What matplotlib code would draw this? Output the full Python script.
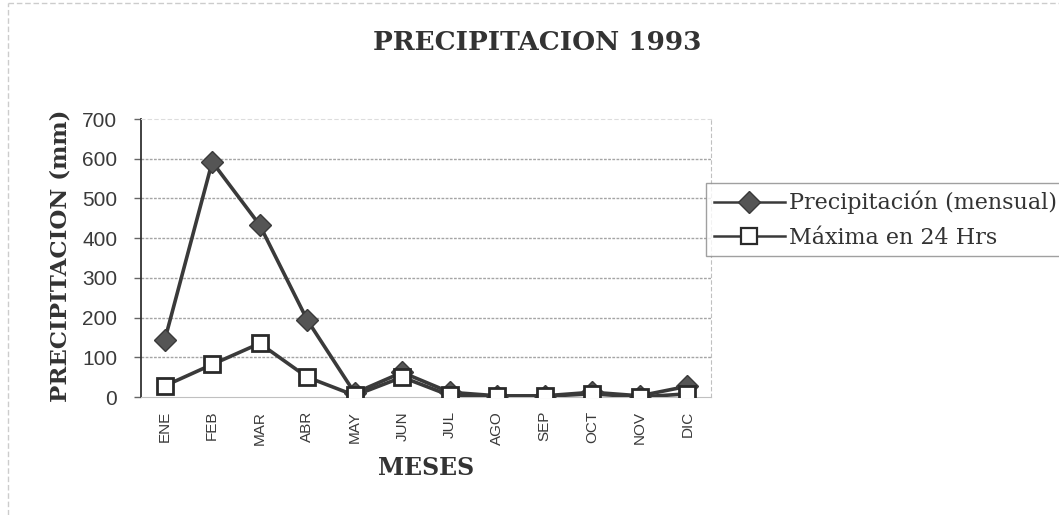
import numpy as np
import matplotlib.pyplot as plt
from matplotlib.lines import Line2D

meses = ["ENE", "FEB", "MAR", "ABR", "MAY", "JUN", "JUL", "AGO", "SEP", "OCT", "NOV", "DIC"]
precip_mensual = [143, 592, 433, 194, 10, 62, 12, 3, 3, 12, 3, 27]
maxima_24h = [28, 82, 135, 50, 4, 50, 4, 2, 2, 8, 0, 8]
y_ticks = [0, 100, 200, 300, 400, 500, 600, 700]

def main():
    fig = plt.figure(figsize=(10.59, 5.15), dpi=100)
    ax = fig.add_axes([0.1331, 0.2291, 0.5383, 0.5398])
    x = np.arange(len(meses))

    linea = '#3a3a3a'
    ax.plot(x, precip_mensual, color=linea, lw=2.6, marker='D', ms=11,
            mfc='#555555', mec='#3a3a3a', zorder=3)
    ax.plot(x, maxima_24h, color=linea, lw=2.6, marker='s', ms=12,
            mfc='white', mec='#2a2a2a', mew=2, zorder=4)

    ax.set_xlim(-0.5, len(meses) - 0.5)
    ax.set_ylim(0, 700)
    ax.set_yticks(y_ticks)
    ax.set_yticklabels([str(v) for v in y_ticks], fontsize=15,
                       family='Liberation Sans', color='#3a3a3a')
    ax.set_xticks(x)
    ax.set_xticklabels(meses, rotation=90, fontsize=11,
                       family='Liberation Sans', color='#3a3a3a')
    ax.tick_params(axis='x', length=0, pad=10)
    ax.tick_params(axis='y', length=5, width=1, color='#666666', pad=12)

    for v in y_ticks[1:-1]:
        ax.axhline(v, color='#a5a5a5', lw=1, ls=(0, (2, 1)), zorder=1)

    ax.spines['left'].set_color('#333333')
    ax.spines['left'].set_linewidth(1.3)
    ax.spines['bottom'].set_color('#c0c0c0')
    ax.spines['top'].set_color('#dddddd')
    ax.spines['top'].set_linestyle((0, (3, 3)))
    ax.spines['right'].set_color('#c0c0c0')
    ax.spines['right'].set_linestyle((0, (3, 3)))

    # textos
    fig.text(537 / 1059, 1 - 43 / 515, "PRECIPITACION 1993", ha='center', va='center',
             fontsize=19, fontweight='bold', family='DejaVu Serif', color='#333333')
    fig.text(426 / 1059, 1 - 468 / 515, "MESES", ha='center', va='center',
             fontsize=17, fontweight='bold', family='DejaVu Serif', color='#333333')
    fig.text(61 / 1059, 1 - 256 / 515, "PRECIPITACION (mm)", ha='center', va='center',
             rotation=90, fontsize=16.5, fontweight='bold', family='DejaVu Serif',
             color='#333333')

    # marco exterior tenue
    fig.add_artist(Line2D([0.008, 0.008], [0.0, 0.995], color='#cccccc', lw=1,
                          ls=(0, (4, 2))))
    fig.add_artist(Line2D([0.008, 1.0], [0.995, 0.995], color='#cccccc', lw=1,
                          ls=(0, (4, 2))))

    h1 = Line2D([], [], color=linea, lw=1.8, marker='D', ms=11, mfc='#555555', mec='#3a3a3a')
    h2 = Line2D([], [], color=linea, lw=1.8, marker='s', ms=12, mfc='white',
                mec='#2a2a2a', mew=1.6)
    leg = fig.legend([h1, h2], ["Precipitación (mensual)", "Máxima en 24 Hrs"],
                     loc='upper left', bbox_to_anchor=(706 / 1059, 1 - 183 / 515),
                     prop={'family': 'DejaVu Serif', 'size': 16}, frameon=True,
                     fancybox=False, edgecolor='#888888', handlelength=3.2,
                     handletextpad=0.2, borderpad=0.35, labelspacing=0.55,
                     borderaxespad=0)
    leg.get_frame().set_linewidth(1)
    for t in leg.get_texts():
        t.set_color('#333333')

    plt.savefig('out.png', dpi=100)

if __name__ == '__main__':
    main()
